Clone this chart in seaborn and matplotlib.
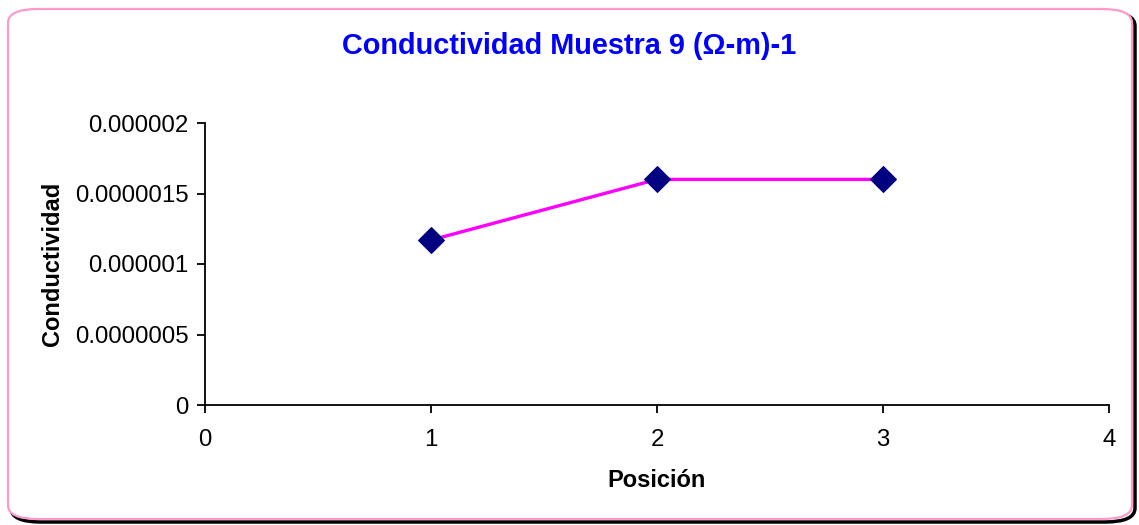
import matplotlib
matplotlib.use("Agg")
import matplotlib.pyplot as plt
from matplotlib.patches import FancyBboxPatch
import seaborn as sns
import pandas as pd

# Conductivity measured at each position of sample 9
posicion = [1, 2, 3]
conductividad = [1.17e-6, 1.6e-6, 1.6e-6]
y_ticks = [0, 0.0000005, 0.000001, 0.0000015, 0.000002]
y_tick_labels = ["0", "0.0000005", "0.000001", "0.0000015", "0.000002"]
x_ticks = [0, 1, 2, 3, 4]

sns.set_theme(style="white")
plt.rcParams["font.family"] = ["Liberation Sans", "DejaVu Sans"]

W, H = 1139, 525
fig = plt.figure(figsize=(W / 100, H / 100), dpi=100)
fig.patch.set_facecolor("white")

# Rounded chart-area frame with a dark drop shadow
x0, y0, x1, y1 = 8, 9, 1132, 519
r = 30
shadow = FancyBboxPatch(((x0 + 3) / W, 1 - (y1 + 3) / H), (x1 - x0) / W, (y1 - y0) / H,
                        boxstyle=f"round,pad=0,rounding_size={r / W}",
                        transform=fig.transFigure, facecolor="none",
                        edgecolor="black", linewidth=2.5, zorder=0)
frame = FancyBboxPatch((x0 / W, 1 - y1 / H), (x1 - x0) / W, (y1 - y0) / H,
                       boxstyle=f"round,pad=0,rounding_size={r / W}",
                       transform=fig.transFigure, facecolor="white",
                       edgecolor="#FF99CC", linewidth=1.6, zorder=1)
fig.patches.extend([shadow, frame])

ax = fig.add_axes([205 / W, 1 - 405 / H, (1109 - 205) / W, (405 - 123) / H])
ax.set_facecolor("none")
ax.set_zorder(2)

df = pd.DataFrame({"Posición": posicion, "Conductividad": conductividad})
sns.lineplot(data=df, x="Posición", y="Conductividad", ax=ax,
             color="#FF00FF", linewidth=2.4, marker="D", markersize=13,
             markerfacecolor="#000080", markeredgecolor="#000080", zorder=3)

ax.set_xlim(0, 4)
ax.set_ylim(0, 0.000002)
ax.set_xticks(x_ticks)
ax.set_yticks(y_ticks)
ax.set_yticklabels(y_tick_labels)

for side in ["top", "right"]:
    ax.spines[side].set_visible(False)
for side in ["left", "bottom"]:
    ax.spines[side].set_color("black")
    ax.spines[side].set_linewidth(1.3)

ax.tick_params(axis="both", which="major", direction="out", length=6, width=1.3,
               color="black", labelsize=17.3, labelcolor="black", left=True, bottom=True)
ax.tick_params(axis="x", pad=11)
ax.tick_params(axis="y", pad=6)

ax.set_xlabel("Posición", fontsize=17, fontweight="bold", labelpad=13, color="black")
ax.set_ylabel("Conductividad", fontsize=17, fontweight="bold", labelpad=8, color="black")

fig.text(0.5, 1 - 46 / H, "Conductividad Muestra 9 (Ω-m)-1", ha="center", va="center",
         fontsize=20.8, fontweight="bold", color="#0000FF")

fig.savefig("out.png", dpi=100, facecolor="white")
